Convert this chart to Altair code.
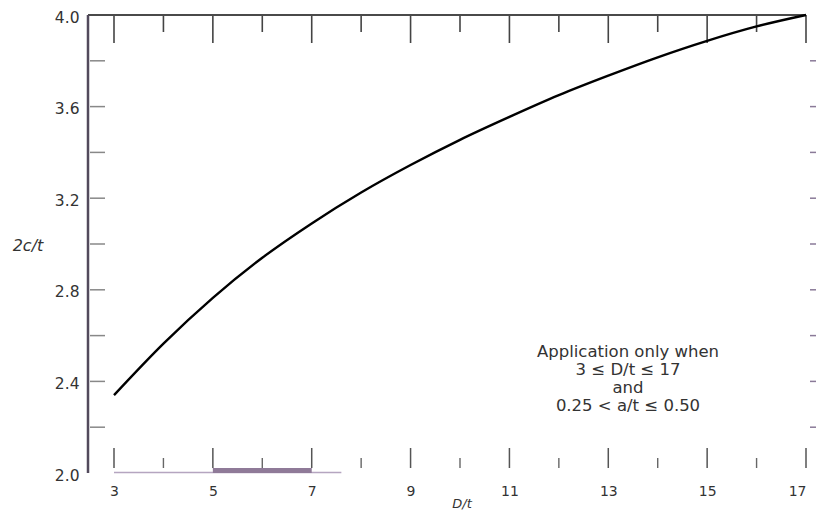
import altair as alt
import pandas as pd

# Curve values
dt = [3, 4, 5, 6, 7, 8, 9, 10, 11, 12, 13, 14, 15, 16, 17]
two_c_t = [2.34, 2.565, 2.765, 2.94, 3.09, 3.225, 3.345, 3.455, 3.555, 3.65, 3.735, 3.815, 3.887, 3.95, 4.0]

x_labels = [3, 5, 7, 9, 11, 13, 15, 17]
x_major = [3, 5, 7, 9, 11, 13, 15, 17]
x_minor = [4, 6, 8, 10, 12, 14, 16]
y_labels = [2.0, 2.4, 2.8, 3.2, 3.6, 4.0]
y_ticks = [2.2, 2.4, 2.6, 2.8, 3.0, 3.2, 3.4, 3.6, 3.8]

# scan artefacts along the bottom edge
base_seg_start = [3]
base_seg_end = [7.6]
bar_start = [5]
bar_end = [7]

note_lines = ["Application only when", "3 \u2264 D/t \u2264 17", "and", "0.25 < a/t \u2264 0.50"]

W, H = 718, 458
FONT = "DejaVu Sans"

xs = alt.Scale(domain=[2.474, 17], nice=False, zero=False)
ys = alt.Scale(domain=[2.0, 4.0], nice=False, zero=False)

curve_df = pd.DataFrame({"dt": dt, "v": two_c_t})

curve = alt.Chart(curve_df).mark_line(color="black", strokeWidth=2.4, interpolate="monotone").encode(
    x=alt.X("dt:Q", scale=xs, axis=alt.Axis(values=x_labels, ticks=False, domain=False, grid=False,
                                            labelFontSize=14, labelColor="#333", labelFont=FONT,
                                            labelPadding=11, title=None, format="d")),
    y=alt.Y("v:Q", scale=ys, axis=alt.Axis(values=y_labels, ticks=False, domain=False, grid=False,
                                           labelFontSize=15.5, labelColor="#333", labelFont=FONT,
                                           labelPadding=9, labelOffset=2, title=None, format=".1f")),
)

def vrules(vals, y1, y2, color, sw):
    return alt.Chart(pd.DataFrame({"t": vals})).mark_rule(color=color, strokeWidth=sw).encode(
        x=alt.X("t:Q", scale=xs), y=alt.value(y1), y2=alt.value(y2))

def hrules(vals, x1, x2, color, sw):
    return alt.Chart(pd.DataFrame({"t": vals})).mark_rule(color=color, strokeWidth=sw).encode(
        y=alt.Y("t:Q", scale=ys), x=alt.value(x1), x2=alt.value(x2))

top_major = vrules(x_major, 0, 28, "#444", 1.6)
top_minor = vrules(x_minor, 0, 17, "#444", 1.6)
bot_major = vrules(x_major, H - 25, H - 5, "#555", 1.5)
bot_minor = vrules(x_minor, H - 15, H - 5, "#666", 1.4)
left_ticks = hrules(y_ticks, 2, 17, "#888", 1.5)
right_ticks = hrules(y_ticks, W + 4, W + 12, "#8a7a98", 1.5)

top_line = alt.Chart(pd.DataFrame({"a": [0]})).mark_rule(color="#4a4a4a", strokeWidth=2).encode(
    x=alt.value(0), x2=alt.value(W), y=alt.value(0))
left_line = alt.Chart(pd.DataFrame({"a": [0]})).mark_rule(color="#524a5c", strokeWidth=2.5).encode(
    x=alt.value(0), y=alt.value(0), y2=alt.value(H))

base_seg = alt.Chart(pd.DataFrame({"s": base_seg_start, "e": base_seg_end})).mark_rule(
    color="#b5a5c0", strokeWidth=1.5).encode(
    x=alt.X("s:Q", scale=xs), x2="e:Q", y=alt.value(H - 0.5))
bar = alt.Chart(pd.DataFrame({"s": bar_start, "e": bar_end})).mark_rect(color="#8f7a98").encode(
    x=alt.X("s:Q", scale=xs), x2="e:Q", y=alt.value(H - 5), y2=alt.value(H))

note = alt.Chart(pd.DataFrame({"a": [0]})).mark_text(
    text=note_lines, font=FONT, fontSize=16.5, color="#333", align="center", baseline="top", lineHeight=18
).encode(x=alt.value(540), y=alt.value(329))

ytitle = alt.Chart(pd.DataFrame({"a": [0]})).mark_text(
    text="2c/t", font=FONT, fontSize=16, fontStyle="italic", color="#333", align="center", baseline="middle"
).encode(x=alt.value(-60), y=alt.value(231))

xtitle = alt.Chart(pd.DataFrame({"a": [0]})).mark_text(
    text="D/t", font=FONT, fontSize=13, fontStyle="italic", color="#333", align="center", baseline="bottom"
).encode(x=alt.value(374), y=alt.value(496))

chart = alt.layer(
    base_seg, bar, top_major, top_minor, bot_major, bot_minor, left_ticks, right_ticks,
    top_line, left_line, curve, note, ytitle, xtitle
).properties(
    width=W, height=H,
    autosize=alt.AutoSizeParams(type="none"),
    padding={"left": 80, "top": 7, "right": 10, "bottom": 39},
    background="white",
).configure_view(stroke=None)

chart.save("out.html", embed_options={"renderer": "svg", "actions": False})
